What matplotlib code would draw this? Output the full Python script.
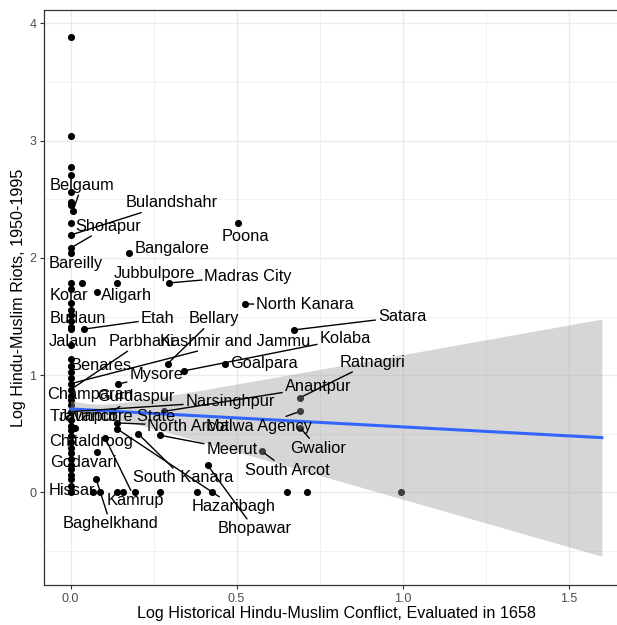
import numpy as np
import matplotlib
matplotlib.use("Agg")
import matplotlib.pyplot as plt

plt.rcParams['font.family'] = ['Liberation Sans', 'DejaVu Sans']

# districts with no recorded historical conflict (x = 0)
zero_riots = [3.886, 3.036, 2.772, 2.704, 2.560, 2.474, 2.449, 2.296, 2.194, 2.083,
              2.041, 1.786, 1.735, 1.616, 1.556, 1.514, 1.463, 1.412, 1.395, 1.259,
              1.139, 1.080, 1.029, 0.978, 0.927, 0.876, 0.825, 0.791, 0.748, 0.689,
              0.621, 0.570, 0.536, 0.485, 0.434, 0.383, 0.340, 0.281, 0.238, 0.196,
              0.153, 0.111, 0.051, 0.0]

# the other districts
conflict = [0.007, 0.033, 0.081, 0.139, 0.177, 0.295, 0.504, 0.526, 0.039, 0.673,
            0.292, 0.342, 0.465, 0.144, 0.691, 0.691, 0.280, 0.124, 0.139, 0.139,
            0.014, 0.204, 0.104, 0.270, 0.691, 0.576, 0.079, 0.413, 0.077,
            0.069, 0.089, 0.139, 0.157, 0.194, 0.270, 0.380, 0.426, 0.651, 0.711, 0.995]
riots = [2.398, 1.786, 1.712, 1.786, 2.041, 1.786, 2.296, 1.607, 1.392, 1.386,
         1.097, 1.037, 1.097, 0.924, 0.808, 0.691, 0.691, 0.691, 0.593, 0.544,
         0.550, 0.499, 0.465, 0.487, 0.553, 0.351, 0.346, 0.232, 0.116,
         0.0, 0.0, 0.0, 0.0, 0.0, 0.0, 0.0, 0.0, 0.0, 0.0, 0.0]

# labelled districts and the point each one belongs to
names = ["Belgaum", "Bulandshahr", "Sholapur", "Bareilly", "Poona", "Bangalore",
         "Jubbulpore", "Madras City", "Kolar", "Aligarh", "North Kanara", "Budaun",
         "Etah", "Bellary", "Satara", "Jalaun", "Parbhani", "Kashmir and Jammu",
         "Kolaba", "Goalpara", "Ratnagiri", "Benares", "Mysore", "Anantpur",
         "Champaran", "Gurdaspur", "Narsinghpur", "Travancore State", "Jaunpur",
         "North Arcot", "Malwa Agency", "Chitaldroog", "Meerut", "Gwalior",
         "Godavari", "South Arcot", "South Kanara", "Kamrup", "Hissar",
         "Hazaribagh", "Baghelkhand", "Bhopawar"]
name_x = [0.007, 0.0, 0.0, 0.0, 0.504, 0.177, 0.139, 0.295, 0.0, 0.081, 0.526, 0.0,
          0.039, 0.292, 0.673, 0.0, 0.0, 0.0, 0.342, 0.465, 0.691, 0.0, 0.144, 0.280,
          0.0, 0.124, 0.0, 0.014, 0.0, 0.139, 0.691, 0.0, 0.270, 0.691, 0.0, 0.576,
          0.204, 0.104, 0.0, 0.139, 0.077, 0.413]
name_y = [2.398, 2.194, 2.083, 2.041, 2.296, 2.041, 1.786, 1.786, 1.735, 1.712, 1.607,
          1.463, 1.392, 1.097, 1.386, 1.259, 0.876, 0.927, 1.037, 1.097, 0.808, 0.978,
          0.924, 0.691, 0.748, 0.691, 0.689, 0.550, 0.621, 0.593, 0.691, 0.434, 0.487,
          0.553, 0.281, 0.351, 0.499, 0.465, 0.0, 0.544, 0.116, 0.232]

# where the repelled labels ended up
label_pos = [(0.034, 2.62), (0.304, 2.468), (0.113, 2.27), (0.017, 1.956), (0.526, 2.185),
             (0.305, 2.08), (0.252, 1.87), (0.535, 1.845), (-0.006, 1.68), (0.17, 1.68),
             (0.706, 1.599), (0.021, 1.48), (0.262, 1.48), (0.432, 1.48), (0.998, 1.497),
             (0.008, 1.287), (0.215, 1.287), (0.495, 1.287), (0.827, 1.31), (0.581, 1.097),
             (0.908, 1.11), (0.092, 1.08), (0.258, 1.003), (0.745, 0.90), (0.059, 0.833),
             (0.197, 0.816), (0.481, 0.776), (0.125, 0.646), (0.053, 0.646), (0.355, 0.566),
             (0.567, 0.566), (0.062, 0.434), (0.486, 0.370), (0.745, 0.378), (0.039, 0.254),
             (0.653, 0.19), (0.339, 0.124), (0.196, -0.066), (0.003, 0.013), (0.492, -0.12),
             (0.12, -0.268), (0.553, -0.31)]

# linear fit and its standard error band
fit_range = [0.0, 1.6]
fit_intercept = 0.712
fit_slope = -0.153
se_base = 0.053
se_slope = 0.66
se_center = 0.07

fig = plt.figure(figsize=(6.17, 6.25), dpi=100)
ax = fig.add_axes([44 / 617, 40 / 625, 584.4 / 617, 575 / 625])

xs = np.concatenate([np.zeros(len(zero_riots)), conflict])
ys = np.concatenate([zero_riots, riots])
ax.scatter(xs, ys, s=26, color='black', linewidths=0, zorder=2)

xf = np.linspace(fit_range[0], fit_range[1], 200)
yf = fit_intercept + fit_slope * xf
hw = np.sqrt(se_base ** 2 + se_slope ** 2 * (xf - se_center) ** 2)
ax.fill_between(xf, yf - hw, yf + hw, color='#999999', alpha=0.4, linewidth=0, zorder=3)
ax.plot(xf, yf, color='#3366FF', lw=2.2, zorder=4)

ax.set_xlim(-0.08, 1.68)
ax.set_ylim(-0.789, 4.113)

texts = []
for nm, (lx, ly) in zip(names, label_pos):
    t = ax.text(lx, ly, nm, fontsize=11.8, ha='center', va='center', zorder=6)
    texts.append(t)

fig.canvas.draw()
r = fig.canvas.get_renderer()
for t, px_, py_ in zip(texts, name_x, name_y):
    bb = t.get_window_extent(r)
    x0, y0, x1, y1 = bb.x0 - 2, bb.y0 - 2, bb.x1 + 2, bb.y1 + 2
    p = ax.transData.transform((px_, py_))
    c = np.array([(x0 + x1) / 2, (y0 + y1) / 2])
    if x0 - 3 <= p[0] <= x1 + 3 and y0 - 3 <= p[1] <= y1 + 3:
        continue
    d = p - c
    # where the line from the label centre to the point leaves the box
    tx = (x1 - c[0]) / abs(d[0]) if d[0] != 0 else np.inf
    ty = (y1 - c[1]) / abs(d[1]) if d[1] != 0 else np.inf
    e = c + d * min(tx, ty)
    # stop a little short of the point
    v = p - e
    L = np.hypot(*v)
    if L < 8:
        continue
    p2 = p - v / L * 3
    a, b = ax.transData.inverted().transform([e, p2])
    ax.plot([a[0], b[0]], [a[1], b[1]], color='black', lw=1.0, zorder=5,
            solid_capstyle='butt')

ax.set_xticks([0, 0.5, 1.0, 1.5])
ax.set_xticklabels(['0.0', '0.5', '1.0', '1.5'])
ax.set_yticks([0, 1, 2, 3, 4])
ax.set_xticks([0.25, 0.75, 1.25], minor=True)
ax.set_yticks([-0.5, 0.5, 1.5, 2.5, 3.5], minor=True)
ax.grid(which='major', color='#EBEBEB', lw=1.0)
ax.grid(which='minor', color='#EBEBEB', lw=0.5)
ax.set_axisbelow(True)
ax.tick_params(which='major', length=2.6, width=0.8, color='#333333',
               labelcolor='#4D4D4D', labelsize=9, pad=3)
ax.tick_params(which='minor', length=0)
for s in ax.spines.values():
    s.set_color('#333333')
    s.set_linewidth(0.9)

ax.set_xlabel('Log Historical Hindu-Muslim Conflict, Evaluated in 1658', fontsize=11.6, labelpad=1)
ax.set_ylabel('Log Hindu-Muslim Riots, 1950-1995', fontsize=11.6, labelpad=2)

fig.savefig('out.png', dpi=100)
